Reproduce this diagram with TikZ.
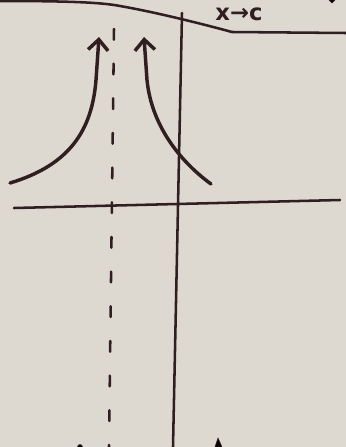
\documentclass[tikz,border=0pt]{standalone}
\usepackage{fontspec}
\setmainfont{DejaVu Sans}
\usetikzlibrary{arrows.meta}
\definecolor{paper}{RGB}{222,217,208}
\definecolor{ink}{RGB}{48,30,32}
\tikzset{
  ink/.style={draw=ink, line cap=round, line join=round},
  axis/.style={ink, line width=1.9pt},
  curve/.style={ink, line width=2.6pt, -{Straight Barb[length=8pt,width=15pt,line width=2.6pt]}},
  dashline/.style={ink, line width=1.9pt, dash pattern=on 8pt off 18pt},
  label/.style={text=ink, font=\fontsize{17}{17}\selectfont\bfseries, inner sep=0pt}
}
\begin{document}
\begin{tikzpicture}[x=0.75pt,y=-0.75pt]
  \fill[paper] (0,0) rectangle (346,447);
  \useasboundingbox (0,0) rectangle (346,447);
  % paper top line
  \draw[axis] (0,1) .. controls (60,1) and (100,2) .. (120,6)
     .. controls (160,13) and (210,26) .. (232,32) -- (346,33);
  % top right blob
  \fill[ink] (329,0) -- (335,0) -- (332,3) -- cycle;
  % vertical axis
  \coordinate (vtop) at (182,13);
  \coordinate (vbot) at (173,447);
  \draw[axis] (vtop) -- (vbot);
  % horizontal axis
  \coordinate (hl) at (14,208);
  \coordinate (hr) at (340,200);
  \draw[axis] (hl) -- (hr);
  % dashed asymptote
  \coordinate (dtop) at (114,29);
  \coordinate (dbot) at (109,447);
  \draw[dashline] (dtop) -- (dbot);
  % left curve
  \coordinate (l0) at (10,183);
  \coordinate (l1) at (99,37);
  \draw[curve] (l0) .. controls (70,165) and (92,130) .. (96,80) -- (l1);
  % right curve
  \coordinate (r0) at (211,184);
  \coordinate (r1) at (144,37);
  \draw[curve] (r0) .. controls (185,165) and (152,130) .. (147,80) -- (r1);
  % label
  \node[label] (lab) at (239,14) {x→c};
  % bottom marks
  \fill[ink] (80,447) circle (2.5);
  \fill[ink] (215,447) -- (218,438) -- (222,447) -- cycle;
\end{tikzpicture}
\end{document}
